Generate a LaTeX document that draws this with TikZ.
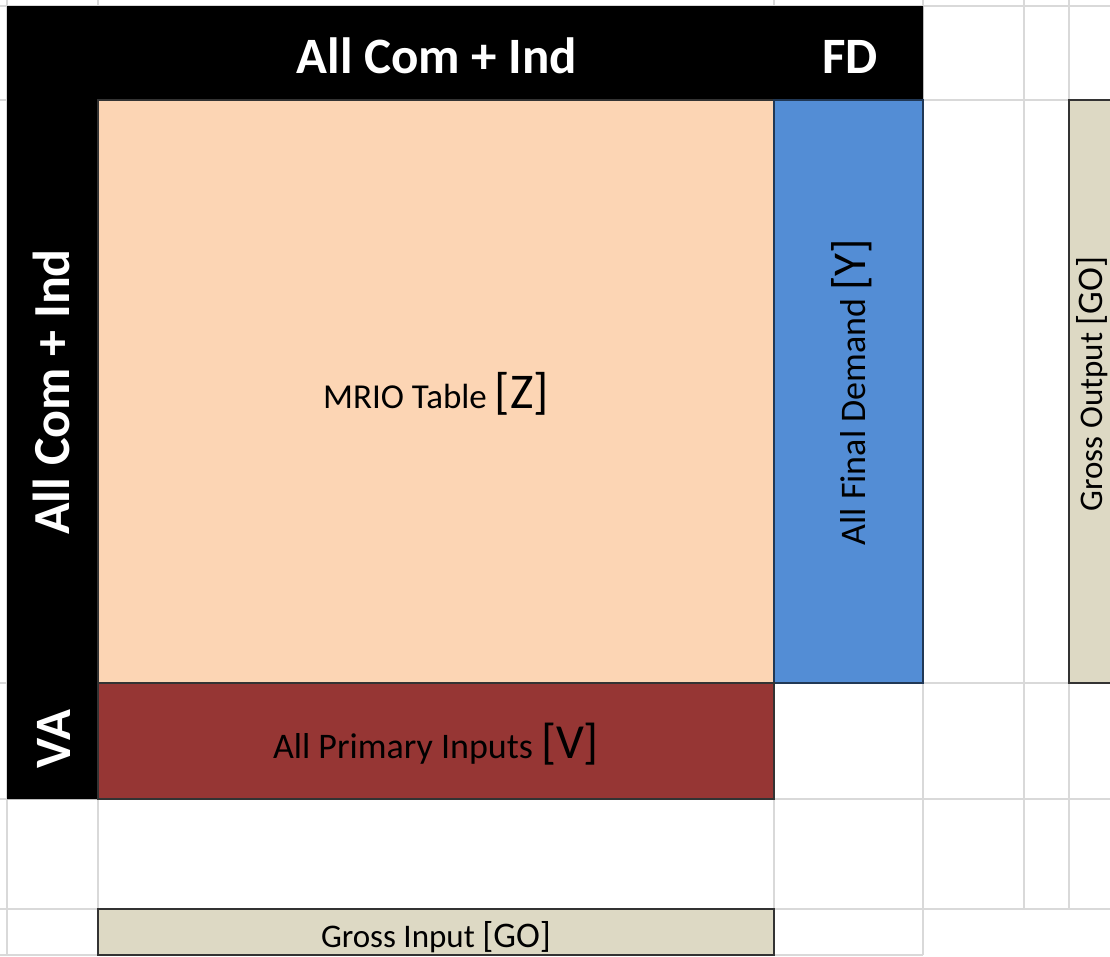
\documentclass[tikz,border=0pt]{standalone}
\usepackage{fontspec}
\setmainfont{Carlito}
\definecolor{peach}{HTML}{FCD5B4}
\definecolor{fdblue}{HTML}{538DD5}
\definecolor{vared}{HTML}{963634}
\definecolor{gotan}{HTML}{DDD9C4}
\definecolor{gridgray}{HTML}{D9D9D9}
\newcommand{\setfs}[1]{\fontsize{#1}{#1}\selectfont}
\tikzset{
  gridline/.style={gridgray, line width=1.2pt},
  cellbox/.style={draw=black!80, line width=1.2pt},
  head/.style={white, font=\bfseries\setfs{51}, anchor=base},
  celltext/.style={black, anchor=base}
}
\begin{document}
\begin{tikzpicture}[x=1pt, y=-1pt]
    \clip (0,0) rectangle (1110,956);
    \fill[white] (0,0) rectangle (1110,956);
    \foreach \gx/\gy in {7/955, 98/955, 774/955, 923/955, 1024/909, 1069/909}
        \draw[gridline] (\gx,0) -- (\gx,\gy);
    \foreach \gy in {6,100,683,799,909}
        \draw[gridline] (0,\gy) -- (1110,\gy);
    \draw[gridline] (0,955) -- (923,955);

    \fill[black] (7,6) -- (923,6) -- (923,100) -- (98,100) -- (98,799) -- (7,799) -- cycle;

    \draw[cellbox, fill=peach] (98,100) rectangle (774,683);
    \draw[cellbox, fill=fdblue, draw=fdblue!40!black] (774,100) rectangle (923,683);
    \draw[cellbox, fill=vared] (98,683) rectangle (774,799);
    \draw[cellbox, fill=gotan] (98,909) rectangle (774,955);
    \draw[cellbox, fill=gotan] (1069,100) rectangle (1130,683);

    \node[head] (hcols) at (437,73) {All Com + Ind};
    \node[head] (hfd) at (850,73) {FD};
    \node[head, rotate=90, font=\bfseries\setfs{52}] (hrows) at (69,392) {All Com + Ind};
    \node[head, rotate=90] (hva) at (70,739) {VA};

    \node[celltext] (mrio) at (436,408) {\setfs{35}MRIO Table \setfs{50}[Z]};
    \node[celltext, rotate=90] (fdem) at (865,392) {\setfs{36}All Final Demand \setfs{47}[Y]};
    \node[celltext] (prim) at (436,758) {\setfs{36}All Primary Inputs \setfs{49}[V]};
    \node[celltext] (gin) at (436,947) {\setfs{33}Gross Input \setfs{36}[GO]};
    \node[celltext, rotate=90] (gout) at (1102,384) {\setfs{33}Gross Output \setfs{36}[GO]};
\end{tikzpicture}
\end{document}
